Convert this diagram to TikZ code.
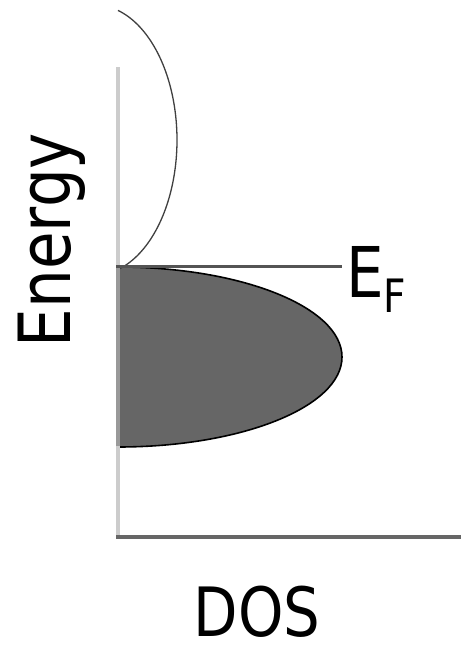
\documentclass[tikz,border=0pt]{standalone}
\usepackage{fontspec}
\setmainfont{DejaVu Sans}
\begin{document}
\begin{tikzpicture}[x=1pt,y=-1pt,
  lbl/.style={inner sep=0pt, text=black},
  axisv/.style={draw=black!20, line width=4pt},
  axish/.style={draw=black!60, line width=4pt},
  fermi/.style={draw=black!67, line width=3.5pt},
  band/.style={draw=black, fill=black!60, line width=1.6pt},
  emptyband/.style={draw=black!75, line width=1.3pt}]
\useasboundingbox (0,0) rectangle (461,645);
% filled band (below Fermi level)
\draw[band] (118,267) arc[start angle=90, end angle=-90, x radius=224, y radius=-90];
% empty band (above Fermi level)
\draw[emptyband] plot[domain=-73.7:73.7, samples=80, smooth] ({95+82*cos(\x)},{140+135*sin(\x)});
% axes
\draw[axisv] (118,67) -- (118,539);
\draw[draw=black!40, line width=4pt] (118,268) -- (118,446);
\draw[axish] (116,537) -- (461,537);
% Fermi level
\coordinate (f0) at (116,266.5);
\coordinate (f1) at (342,266.5);
\draw[fermi] (f0) -- (f1);
% labels
\node[lbl, anchor=base west] (ef) at (346,297) {\fontsize{70}{70}\selectfont\scalebox{0.85}[1]{E}\raisebox{-15pt}{\fontsize{46}{46}\selectfont\scalebox{0.85}[1]{F}}};
\node[lbl, rotate=90, anchor=base] (energy) at (70,240) {\fontsize{72}{72}\selectfont\scalebox{0.85}[1]{Energy}};
\node[lbl, anchor=base, text depth=0pt] (dos) at (257,636) {\fontsize{68}{68}\selectfont\scalebox{0.85}[1]{DOS}};
\end{tikzpicture}
\end{document}
